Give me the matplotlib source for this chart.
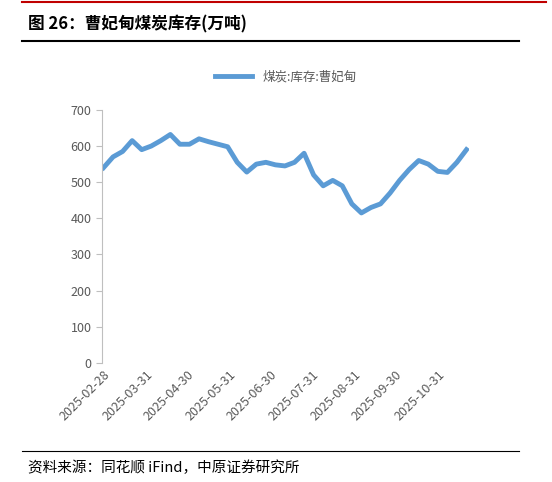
import matplotlib.pyplot as plt
import matplotlib.dates as mdates
import pandas as pd

plt.rcParams['font.family'] = ['Noto Sans CJK SC', 'DejaVu Sans']

dates = pd.date_range("2025-02-28", periods=39, freq="7D")
stock = [540, 570, 585, 615, 590, 600, 615, 632, 605, 605, 620, 612, 605,
         598, 555, 528, 550, 555, 548, 545, 555, 580, 520, 490, 505, 490,
         440, 415, 430, 440, 470, 505, 535, 560, 550, 530, 527, 555, 590]
tick_dates = pd.to_datetime(["2025-02-28", "2025-03-31", "2025-04-30", "2025-05-31",
                             "2025-06-30", "2025-07-31", "2025-08-31", "2025-09-30",
                             "2025-10-31"])

fig = plt.figure(figsize=(5.52, 4.82), dpi=100)
ax = fig.add_axes([0.185, 0.247, 0.665, 0.525])
ax.plot(dates, stock, color="#5B9BD5", lw=3.5, label="煤炭:库存:曹妃甸")
ax.set_ylim(0, 700)
ax.set_yticks(range(0, 701, 100))
ax.set_xlim(dates[0] - pd.Timedelta(days=1), dates[-1] + pd.Timedelta(days=2))
ax.set_xticks(tick_dates)
ax.xaxis.set_major_formatter(mdates.DateFormatter("%Y-%m-%d"))
plt.setp(ax.get_xticklabels(), rotation=45, ha="right", rotation_mode="anchor")
ax.tick_params(labelsize=9, colors="#595959", length=0)
ax.tick_params(axis="y", length=4, color="#BFBFBF")
for s in ["top", "right", "bottom"]:
    ax.spines[s].set_visible(False)
ax.spines["left"].set_color("#BFBFBF")
ax.legend(loc="upper center", bbox_to_anchor=(0.5, 1.2), frameon=False,
          fontsize=9, labelcolor="#595959", handlelength=3)

fig.add_artist(plt.Line2D([0.04, 0.99], [0.995, 0.995], color="#C00000", lw=1.5))
fig.add_artist(plt.Line2D([0.04, 0.94], [0.915, 0.915], color="black", lw=1.5))
fig.text(0.05, 0.95, "图 26：曹妃甸煤炭库存(万吨)", fontsize=12, fontweight="bold",
         va="center")
fig.add_artist(plt.Line2D([0.04, 0.94], [0.065, 0.065], color="black", lw=0.8))
fig.text(0.05, 0.03, "资料来源：同花顺 iFind，中原证券研究所", fontsize=10.5, va="center")

fig.savefig("out.png", dpi=100)
